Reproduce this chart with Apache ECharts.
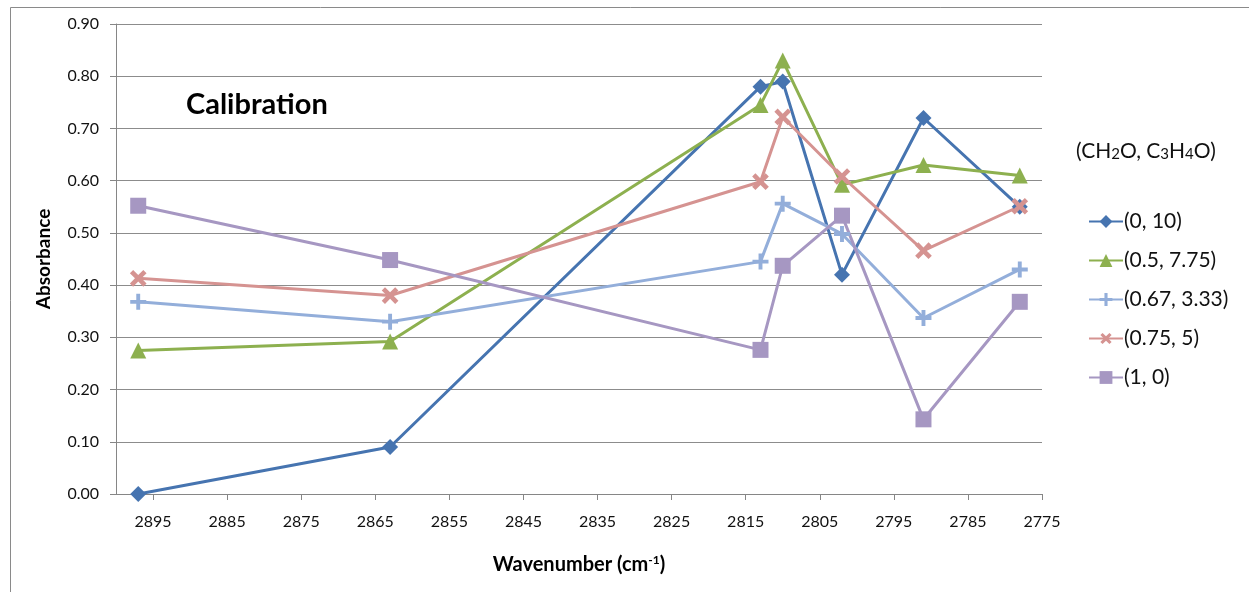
<!DOCTYPE html>
<html>
<head>
<meta charset="utf-8">
<script src="https://cdn.jsdelivr.net/npm/echarts@6/dist/echarts.min.js"></script>
<style>
html,body{margin:0;padding:0;background:#fff;}
#c{width:1249px;height:592px;}
</style>
</head>
<body>
<div id="c"></div>
<script>
// ---- data ----
const wavenumbers = [2897, 2863, 2813, 2810, 2802, 2791, 2778];
const seriesNames = ['(0, 10)', '(0.5, 7.75)', '(0.67, 3.33)', '(0.75, 5)', '(1, 0)'];
const s_0_10    = [0.00, 0.09, 0.78, 0.79, 0.42, 0.72, 0.55];
const s_05_775  = [0.275, 0.292, 0.745, 0.83, 0.592, 0.63, 0.61];
const s_067_333 = [0.368, 0.33, 0.445, 0.556, 0.498, 0.337, 0.43];
const s_075_5   = [0.413, 0.38, 0.598, 0.722, 0.608, 0.466, 0.551];
const s_1_0     = [0.552, 0.448, 0.276, 0.437, 0.533, 0.143, 0.368];
const xTickValues = [2775, 2785, 2795, 2805, 2815, 2825, 2835, 2845, 2855, 2865, 2875, 2885, 2895];

const colors = ['#4674B0', '#8DB04F', '#93AEDA', '#D59391', '#A697C2'];
const plusPath = 'path://M5.3,0H8.7V5.3H14V8.7H8.7V14H5.3V8.7H0V5.3H5.3Z';
const symbols = ['diamond', 'triangle', plusPath, plusPath, 'rect'];
const rotations = [0, 0, 0, 45, 0];
const sizes = [16, 16, 16, 19, 16];
const values = [s_0_10, s_05_775, s_067_333, s_075_5, s_1_0];

const FONT = 'Lato, "Open Sans", sans-serif';

const series = values.map((vals, i) => ({
  name: seriesNames[i],
  type: 'line',
  data: wavenumbers.map((w, j) => [w, vals[j]]),
  symbol: symbols[i],
  symbolSize: sizes[i],
  symbolRotate: rotations[i],
  showAllSymbol: true,
  lineStyle: { color: colors[i], width: 3 },
  itemStyle: { color: colors[i] },
  emphasis: { disabled: true },
  animation: false
}));

const chart = echarts.init(document.getElementById('c'), null, { renderer: 'canvas' });
chart.setOption({
  backgroundColor: '#fff',
  animation: false,
  color: colors,
  textStyle: { fontFamily: FONT },
  title: [
    {
      text: 'Calibration',
      left: 181, top: 85,
      textStyle: { fontFamily: FONT, fontSize: 29, fontWeight: 'bold', color: '#000' }
    },
    {
      text: '(CH{s|2}O, C{s|3}H{s|4}O)',
      left: 1071, top: 136,
      textStyle: {
        fontFamily: FONT, fontSize: 21, fontWeight: 'normal', color: '#111',
        rich: { s: { fontFamily: FONT, fontSize: 15, color: '#111', padding: [5, 0, 0, 0] } }
      }
    }
  ],
  legend: {
    orient: 'vertical',
    left: 1083, top: 206,
    itemWidth: 34, itemHeight: 16,
    itemGap: 18,
    data: seriesNames,
    textStyle: { fontFamily: FONT, fontSize: 21, color: '#111', padding: [0, 0, 0, -4] }
  },
  grid: { left: 116, right: 207, top: 24, bottom: 98, containLabel: false },
  xAxis: {
    type: 'value',
    min: 2775, max: 2900,
    inverse: true,
    name: 'Wavenumber (cm{sup|-1})',
    nameLocation: 'middle',
    nameGap: 60,
    nameTextStyle: {
      fontFamily: FONT, fontSize: 20, fontWeight: 'bold', color: '#000',
      rich: { sup: { fontFamily: FONT, fontSize: 12, fontWeight: 'bold', color: '#000', verticalAlign: 'top', padding: [0, 0, 9, 0] } }
    },
    axisLine: { show: true, lineStyle: { color: '#868686', width: 1 } },
    axisTick: { show: true, length: 6, lineStyle: { color: '#868686' }, customValues: xTickValues },
    axisLabel: { fontFamily: FONT, fontSize: 16, color: '#111', margin: 20, customValues: xTickValues, formatter: v => String(v) },
    splitLine: { show: false }
  },
  yAxis: {
    type: 'value',
    min: 0, max: 0.9, interval: 0.1,
    name: 'Absorbance',
    nameLocation: 'middle',
    nameGap: 63,
    nameTextStyle: { fontFamily: FONT, fontSize: 19, fontWeight: 'bold', color: '#000' },
    axisLine: { show: true, lineStyle: { color: '#868686', width: 1 } },
    axisTick: { show: true, length: 6, lineStyle: { color: '#868686' } },
    axisLabel: { fontFamily: FONT, fontSize: 16, color: '#111', margin: 17, formatter: v => v.toFixed(2) },
    splitLine: { show: true, lineStyle: { color: '#8c8c8c', width: 1 } }
  },
  graphic: [
    { type: 'rect', left: 8, top: 5, shape: { width: 1300, height: 700 }, style: { fill: 'none', stroke: '#8a8a8a', lineWidth: 1 }, silent: true, z: -1 }
  ],
  series: series
});
</script>
</body>
</html>
